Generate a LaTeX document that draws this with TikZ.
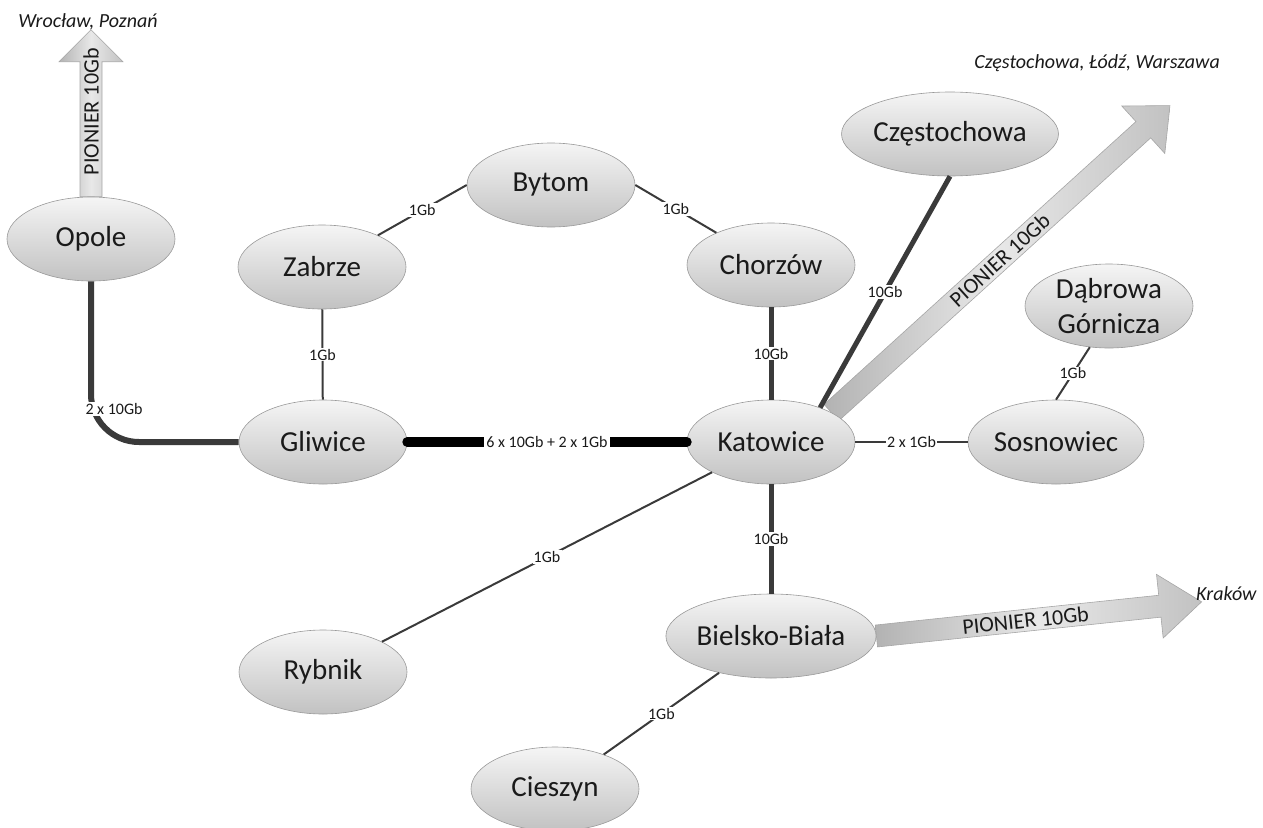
\documentclass[tikz,border=0pt]{standalone}
\usepackage{fontspec}
\setmainfont{Carlito}
\usetikzlibrary{shapes.geometric}
\pgfdeclarelayer{background}
\pgfsetlayers{background,main}
\definecolor{linec}{HTML}{3A3A3A}
\definecolor{txt}{HTML}{1A1A1A}
\newcommand{\PionierArrow}[4]{% #1 length, #2 head length, #3 text pos, #4 angle
  \path[arrowbody] (0,-11) -- ({#1-#2},-11) -- ({#1-#2},-32) -- (#1,0) -- ({#1-#2},32) -- ({#1-#2},11) -- (0,11) -- cycle;
  \node[arrowtext, rotate=#4] at (#3,0) {PIONIER 10Gb};}
\begin{document}
\begin{tikzpicture}[x=1pt,y=-1pt,
  city/.style={ellipse, draw=black!40, line width=0.6pt, top color=black!4, bottom color=black!24,
    minimum width=168pt, minimum height=84pt, inner sep=0pt, align=center,
    font=\fontsize{29}{34.5}\selectfont, text=txt},
  lbl/.style={fill=white, inner sep=1.2pt, font=\fontsize{16}{18}\selectfont, text=txt},
  link1/.style={draw=linec, line width=2pt},
  link10/.style={draw=linec, line width=5pt},
  trunk/.style={draw=black, line width=10pt, line cap=round},
  arrowbody/.style={draw=black!35, line width=0.6pt, left color=black!30, right color=black!24, middle color=black!9},
  arrowtext/.style={font=\fontsize{22}{24}\selectfont, text=txt, inner sep=0pt},
  dest/.style={font=\fontsize{20}{23}\selectfont\itshape, text=txt, inner sep=0pt}]
\useasboundingbox (0,0) rectangle (1263,827);

% cities
\node[city] (Opole)     at (91,239)   {Opole};
\node[city] (Zabrze)    at (322,267)  {Zabrze};
\node[city] (Bytom)     at (551,185)  {Bytom};
\node[city] (Chorzow)   at (771,265)  {Chorzów};
\node[city] (Czest)     at (950,134)  {Częstochowa};
\node[city] (Dabrowa)   at (1109,306) {Dąbrowa\\Górnicza};
\node[city] (Gliwice)   at (323,442)  {Gliwice};
\node[city] (Katowice)  at (771,442)  {Katowice};
\node[city] (Sosnowiec) at (1056,442) {Sosnowiec};
\node[city] (Rybnik)    at (323,672)  {Rybnik};
\node[city] (Bielsko)   at (771,636)  {Bielsko-Biała};
\node[city] (Cieszyn)   at (555,789)  {Cieszyn};

% PIONIER arrows
\begin{pgfonlayer}{background}
\begin{scope}[shift={(Opole.north)}, rotate=90]
  \PionierArrow{167}{32}{85}{90}
\end{scope}
\begin{scope}[shift={(Katowice.26)}, rotate=42.2]
  \PionierArrow{457}{36}{227}{42.2}
\end{scope}
\begin{scope}[shift={(Bielsko.east)}, rotate=6]
  \PionierArrow{327}{42}{150}{6}
\end{scope}
\end{pgfonlayer}

\node[dest] (wroc) at (88,22) {Wrocław, Poznań};
\node[dest, anchor=east] (warsz) at (1220,63) {Częstochowa, Łódź, Warszawa};
\node[dest, anchor=west] (krak) at (1196,594) {Kraków};

% links
\draw[link1] (Bytom.west) -- node[lbl] {1Gb} (Zabrze);
\draw[link1] (Bytom.east) -- node[lbl] {1Gb} (Chorzow);
\draw[link1] (Zabrze) -- node[lbl] {1Gb} (Gliwice);
\draw[link10] (Chorzow) -- node[lbl] {10Gb} (Katowice);
\draw[link10] (Katowice.35) -- node[lbl] {10Gb} (Czest.south);
\draw[link1] (Katowice) -- node[lbl] {2 x 1Gb} (Sosnowiec);
\draw[link1] (Sosnowiec.north) -- node[lbl] {1Gb} (Dabrowa.245);
\draw[link10] (Katowice) -- node[lbl] {10Gb} (Bielsko);
\draw[link1] (Katowice) -- node[lbl] {1Gb} (Rybnik);
\draw[link1] (Bielsko) -- node[lbl] {1Gb} (Cieszyn);
\draw[trunk] (Gliwice) -- node[lbl, inner sep=2pt] {6 x 10Gb + 2 x 1Gb} (Katowice);
\draw[draw=linec, line width=6pt, rounded corners=48pt] (Opole.south) |- (Gliwice.west);
\node[lbl] (opl) at (114,409) {2 x 10Gb};
\end{tikzpicture}
\end{document}
